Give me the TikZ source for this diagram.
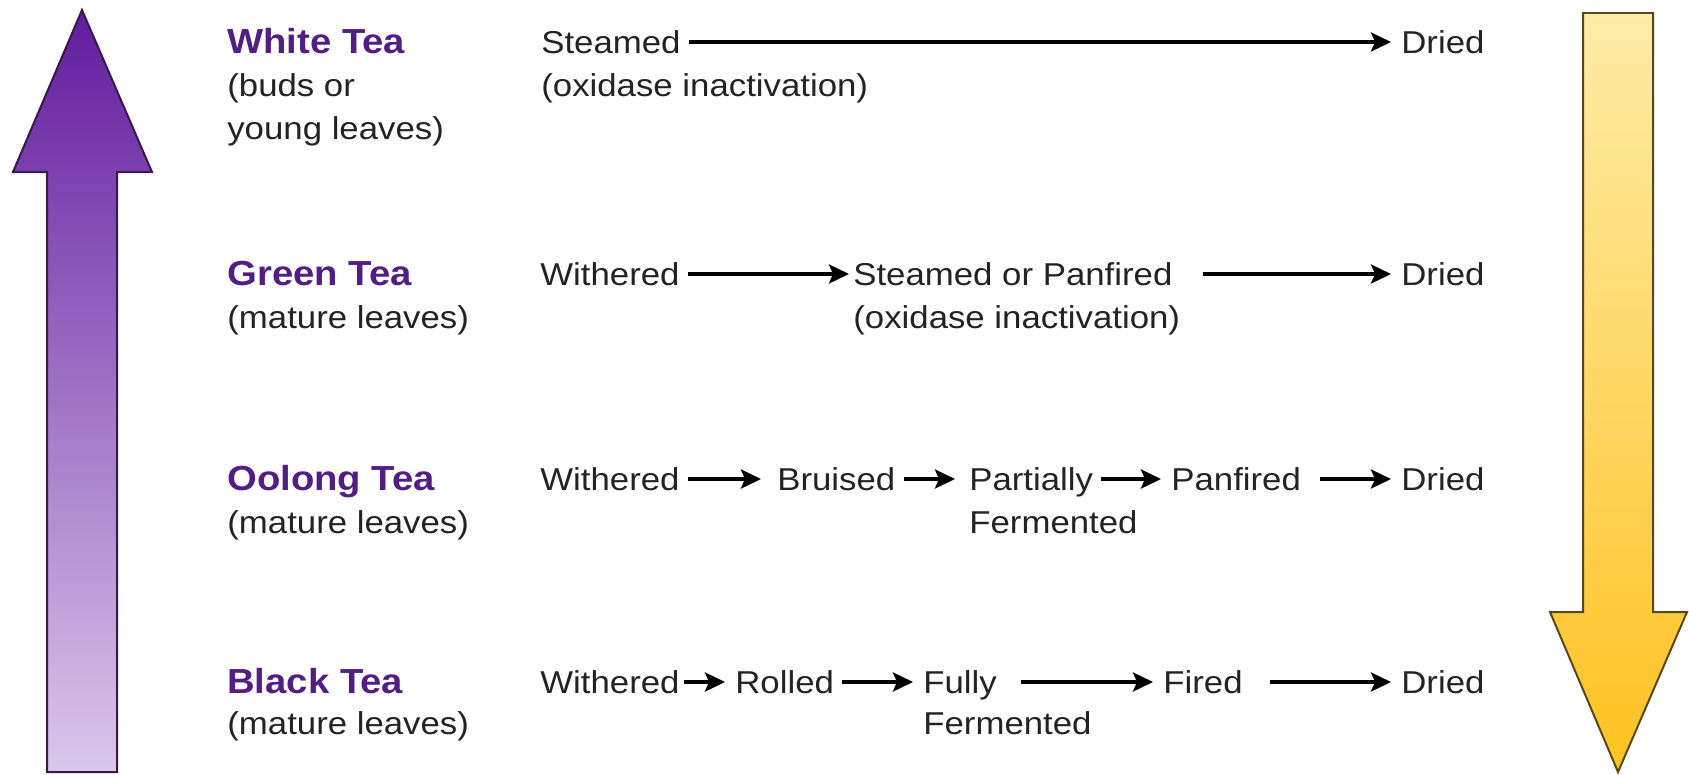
\documentclass[tikz,border=0pt]{standalone}
\usepackage{fontspec}
\setmainfont{Liberation Sans}[FakeStretch=1.1]
\usetikzlibrary{arrows.meta}

\definecolor{teapurple}{RGB}{82,30,132}
\definecolor{leafgray}{RGB}{35,35,35}
\definecolor{purpletop}{RGB}{98,28,158}
\definecolor{purplebot}{RGB}{218,200,234}
\definecolor{purpleline}{RGB}{55,25,75}
\definecolor{goldtop}{RGB}{255,236,168}
\definecolor{goldbot}{RGB}{255,194,32}
\definecolor{goldline}{RGB}{85,72,30}

\begin{document}
\begin{tikzpicture}[x=0.02cm,y=-0.02cm,font=\fontsize{18}{22}\selectfont]

      \useasboundingbox (0,0) rectangle (1689,774);

      % big side arrows
      \shadedraw[top color=purpletop,bottom color=purplebot,draw=purpleline,line width=0.04cm]
        (82,10) -- (152,172) -- (117,172) -- (117,772) -- (47,772) -- (47,172) -- (13,172) -- cycle;
      \shadedraw[top color=goldtop,bottom color=goldbot,draw=goldline,line width=0.04cm]
        (1583,13) -- (1653,13) -- (1653,612) -- (1687,612) -- (1618,772) -- (1550,612) -- (1583,612) -- cycle;

      \begin{scope}[every node/.style={anchor=base west,inner sep=0pt,font=\fontsize{19.8}{22}\selectfont\bfseries,text=teapurple}]
        \node (white)  at (227,53)  {White Tea};
        \node (green)  at (227,285) {Green Tea};
        \node (oolong) at (227,490) {Oolong Tea};
        \node (black)  at (227,693) {Black Tea};
      \end{scope}

      \begin{scope}[every node/.style={anchor=base west,inner sep=0pt,text=leafgray}]
        \node (white1)  at (227,96)  {(buds or};
        \node (white2)  at (227,139) {young leaves)};
        \node (green1)  at (227,328) {(mature leaves)};
        \node (oolong1) at (227,533) {(mature leaves)};
        \node (black1)  at (227,734) {(mature leaves)};
      \end{scope}

      \begin{scope}[every node/.style={anchor=base west,inner xsep=0.08cm,inner ysep=0pt,
          text height=0.44cm,text depth=0pt,text=leafgray}]
        % white tea
        \node (w1)   at (537,53)   {Steamed};
        \node (w1b)  at (537,96)   {(oxidase inactivation)};
        \node (w2)   at (1397,53)  {Dried};
        % green tea
        \node (g1)   at (536,285)  {Withered};
        \node (g2)   at (849,285)  {Steamed or Panfired};
        \node (g2b)  at (849,328)  {(oxidase inactivation)};
        \node (g3)   at (1397,285) {Dried};
        % oolong tea
        \node (o1)   at (536,490)  {Withered};
        \node (o2)   at (773,490)  {Bruised};
        \node (o3)   at (965,490)  {Partially};
        \node (o3b)  at (965,533)  {Fermented};
        \node (o4)   at (1167,490) {Panfired};
        \node (o5)   at (1397,490) {Dried};
        % black tea
        \node (b1)   at (536,693)  {Withered};
        \node (b2)   at (731,693)  {Rolled};
        \node (b3)   at (919,693)  {Fully};
        \node (b3b)  at (919,734)  {Fermented};
        \node (b4)   at (1159,693) {Fired};
        \node (b5)   at (1397,693) {Dried};
      \end{scope}

      \begin{scope}[every edge/.style={draw,line width=0.07cm,
          -{Stealth[length=0.4cm,width=0.38cm,inset=0.08cm]},
          shorten <=0.08cm,shorten >=0.12cm}]
        \path (w1) edge (w2);

        \path (g1) edge[shorten >=0pt] (g2);
        \path (g2) edge[shorten <=0.52cm] (g3);

        \path (o1) edge[shorten >=0.24cm] (o2);
        \path (o2) edge[shorten >=0.2cm] (o3);
        \path (o3) edge (o4);
        \path (o4) edge[shorten <=0.3cm] (o5);

        \path (b1) edge[shorten <=0pt] (b2);
        \path (b2) edge (b3);
        \path (b3) edge[shorten <=0.4cm] (b4);
        \path (b4) edge[shorten <=0.46cm] (b5);
      \end{scope}

    \end{tikzpicture}
\end{document}
